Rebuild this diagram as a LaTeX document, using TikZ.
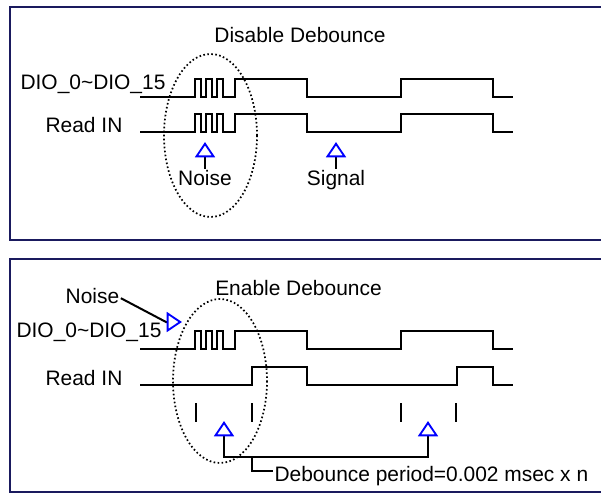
\documentclass[tikz,border=0pt]{standalone}
\usepackage{fontspec}
\setmainfont{Liberation Sans}
\usetikzlibrary{arrows.meta,positioning}
\definecolor{frameNavy}{HTML}{1A1A5E}
\definecolor{tipBlue}{HTML}{0000FF}

\begin{document}
\begin{tikzpicture}[
    x=0.75pt, y=-0.75pt,
    lbl/.style={inner sep=1pt, font=\fontsize{15.7}{18}\selectfont},
    panel/.style={draw=frameNavy, line width=1.6pt},
    wave/.style={draw=black, line width=1.5pt},
    dotline/.style={line width=1.3pt, dash pattern=on 1.2pt off 1.8pt},
    trigarrow/.style={wave, -{Triangle[open, color=tipBlue, length=11.5pt,
                      width=15pt, line width=1.4pt]}},
    periodarr/.style={wave, {Triangle[open, color=tipBlue, length=11.5pt,
                      width=15pt, line width=1.4pt]}-{Triangle[open,
                      color=tipBlue, length=11.5pt, width=15pt, line width=1.4pt]}},
    glitch/.style={insert path={-- ++(0,-18) -- ++(6,0) -- ++(0,18) -- ++(5,0)
                   -- ++(0,-18) -- ++(6,0) -- ++(0,18) -- ++(5,0) -- ++(0,-18)
                   -- ++(6,0) -- ++(0,18) -- ++(12,0) -- ++(0,-18)}},
]
    \useasboundingbox (0,0) rectangle (601,493);

    % Disable Debounce
    \draw[panel] (10,7) rectangle (612,240);
    \node[lbl, anchor=base] (title1) at (300,42.5) {Disable Debounce};
    \node[lbl, anchor=base east] (dio1) at (167,89) {DIO\_0\textasciitilde DIO\_15};
    \node[lbl, anchor=base east] (read1) at (124,132) {Read IN};
    \draw[wave] (140,97) -- (195,97) [glitch] -| (307,97) -| (401,79) -| (493,97) -- (513,97);
    \draw[wave] (140,132) -- (195,132) [glitch] -| (307,132) -| (401,114) -| (493,132) -- (513,132);
    \draw[dotline] (210.5,135.5) ellipse [x radius=46.5, y radius=81.5];
    \coordinate (n1tip) at (205,142);
    \coordinate (s1tip) at (336,142);
    \node[lbl, below=20pt of n1tip] (noise1) {Noise};
    \node[lbl, below=20pt of s1tip] (signal) {Signal};
    \draw[trigarrow] (noise1) -- (n1tip);
    \draw[trigarrow] (signal) -- (s1tip);

    % Enable Debounce
    \draw[panel] (10,259) rectangle (612,492);
    \node[lbl, anchor=base] (title2) at (298.5,295) {Enable Debounce};
    \node[lbl, anchor=base east] (dio2) at (163,337) {DIO\_0\textasciitilde DIO\_15};
    \node[lbl, anchor=base east] (read2) at (124,385) {Read IN};
    \node[lbl, anchor=base] (noise2) at (92.5,303) {Noise};
    \draw[wave] (140,349) -- (195,349) [glitch] -| (307,349) -| (401,331) -| (493,349) -- (513,349);
    \draw[wave] (140,385) -| (252,367) -| (307,385) -| (457,367) -| (493,385) -- (513,385);
    \foreach \x in {196,252,401,456}
        \draw[wave] (\x,403) -- (\x,422);
    \draw[dotline] (220,381) ellipse [x radius=47, y radius=82];
    \coordinate (n2bend) at (166,322);
    \coordinate (n2tip) at (182,322);
    \draw[trigarrow] ([yshift=-2pt]noise2.east) -- (n2bend) -- (n2tip);
    \coordinate (p1tip) at (224,421);
    \coordinate (p2tip) at (428,421);
    \coordinate (brk) at (252,457);
    \draw[periodarr] (p1tip) |- (brk) -| (p2tip);
    \node[lbl, anchor=base west] (period) at (273,481) {Debounce period=0.002 msec x n};
    \draw[wave] (brk) |- ([yshift=3.5pt]period.west);
\end{tikzpicture}
\end{document}
